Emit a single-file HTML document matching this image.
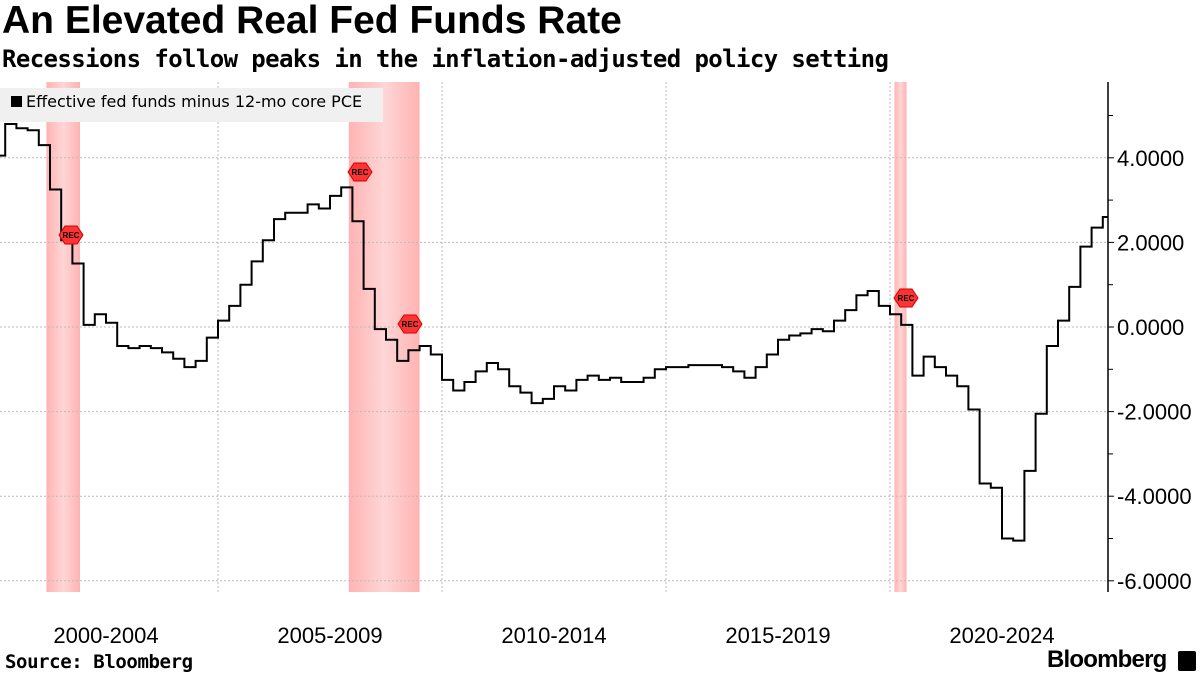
<!DOCTYPE html>
<html><head><meta charset="utf-8">
<style>
body{margin:0;background:#fff;font-family:"Liberation Sans",sans-serif;}
#wrap{position:relative;width:1200px;height:675px;overflow:hidden;}
.t{position:absolute;left:2px;color:#000;font-weight:bold;}
</style></head><body>
<div id="wrap">
<div class="t" style="top:-1px;font-size:39px;letter-spacing:0px">An Elevated Real Fed Funds Rate</div>
<div class="t" style="top:45px;font-size:24px;font-family:'DejaVu Sans Mono','Liberation Mono',monospace;letter-spacing:-0.6px">Recessions follow peaks in the inflation-adjusted policy setting</div>
<svg id="svg" width="1200" height="675" style="position:absolute;left:0;top:0"></svg>
<div style="position:absolute;left:5px;top:651px;font-size:19px;font-weight:bold;font-family:'DejaVu Sans Mono','Liberation Mono',monospace;letter-spacing:-0.4px">Source: Bloomberg</div>
<div style="position:absolute;left:1047px;top:646px;font-size:24px;font-weight:bold;letter-spacing:-0.8px">Bloomberg</div>
<div style="position:absolute;left:1178px;top:651px;width:18px;height:20px;background:#000;border-radius:2px"></div>
</div>
<script>
const startYear = 2000.0;
const step = 0.25;
const values = [4.05,4.8,4.7,4.65,4.3,3.25,2.05,1.5,0.05,0.3,0.1,-0.45,-0.5,-0.45,-0.5,-0.6,-0.75,-0.95,-0.8,-0.25,
0.15,0.5,1.0,1.55,2.05,2.55,2.7,2.7,2.9,2.8,3.1,3.3,2.5,0.9,-0.05,-0.3,-0.8,-0.55,-0.45,-0.65,
-1.25,-1.5,-1.3,-1.05,-0.85,-1.0,-1.4,-1.55,-1.8,-1.7,-1.4,-1.5,-1.25,-1.15,-1.25,-1.2,-1.3,-1.3,-1.2,-1.0,
-0.95,-0.95,-0.9,-0.9,-0.9,-0.95,-1.05,-1.2,-0.95,-0.65,-0.3,-0.2,-0.15,-0.05,-0.1,0.15,0.4,0.75,0.85,0.5,
0.3,0.05,-1.15,-0.7,-0.95,-1.15,-1.4,-1.95,-3.7,-3.8,-5.0,-5.05,-3.4,-2.05,-0.45,0.15,0.95,1.9,2.35,2.6];
const recessions = [[2001.17,2001.92],[2007.92,2009.5],[2020.1,2020.37]];
const yTicks = [4,2,0,-2,-4,-6];
const yTickLabels = ["4.0000","2.0000","0.0000","-2.0000","-4.0000","-6.0000"];
const xLabels = ["2000-2004","2005-2009","2010-2014","2015-2019","2020-2024"];
const xLabelStarts = [2000,2005,2010,2015,2020];

const svg=document.getElementById('svg');
const NS='http://www.w3.org/2000/svg';
const X=t=>-6+(t-2000)*44.8;
const Y=v=>327-v*42.3;
const TOP=82,BOT=592,AX=1108;
function mk(tag,attrs,parent){const e=document.createElementNS(NS,tag);for(const k in attrs)e.setAttribute(k,attrs[k]);(parent||svg).appendChild(e);return e;}

const defs=mk('defs',{});
const g=mk('linearGradient',{id:'recg',x1:0,x2:1,y1:0,y2:0},defs);
mk('stop',{offset:'0','stop-color':'#ffb3b3'},g);
mk('stop',{offset:'0.5','stop-color':'#ffd6d6'},g);
mk('stop',{offset:'1','stop-color':'#ffb3b3'},g);

recessions.forEach(r=>{
  const e=mk('rect',{x:X(r[0]),y:TOP,width:X(r[1])-X(r[0]),height:BOT-TOP,fill:'url(#recg)'});
  
  
});

yTicks.forEach((v,i)=>{
  const l=mk('line',{x1:0,x2:AX,y1:Y(v),y2:Y(v),stroke:'#bbb','stroke-dasharray':'2,2','stroke-width':1});
  
  
  mk('line',{x1:AX,x2:AX+6,y1:Y(v),y2:Y(v),stroke:'#000'});
  const t=mk('text',{x:AX+9,y:Y(v)+8,'font-size':22,'font-family':'Liberation Sans, sans-serif'});
  t.textContent=yTickLabels[i];
  
  
  if(i<yTicks.length-1){const m=Y(v-1);mk('line',{x1:AX,x2:AX+5,y1:m,y2:m,stroke:'#000'});}
});
{const m=Y(5);mk('line',{x1:AX,x2:AX+5,y1:m,y2:m,stroke:'#000'});}
const ax=mk('line',{x1:AX,x2:AX,y1:TOP,y2:BOT,stroke:'#000','stroke-width':1.5});



xLabelStarts.forEach((s,i)=>{
  if(i>0){const l=mk('line',{x1:X(s),x2:X(s),y1:TOP,y2:BOT,stroke:'#bbb','stroke-dasharray':'2,2'});
    
    }
  const t=mk('text',{x:X(s+2.5),y:643,'font-size':22,'text-anchor':'middle','font-family':'Liberation Sans, sans-serif'});
  t.textContent=xLabels[i];
  
  
});

let d='';
values.forEach((v,i)=>{
  const x=X(startYear+i*step),y=Y(v);
  if(i===0)d+=`M${x},${y}`;else d+=`H${x}V${y}`;
});
d+=`H${X(startYear+(values.length-1)*step)+5}`;
const line=mk('path',{d:d,fill:'none',stroke:'#000','stroke-width':2});



function rec(x,y){
  const gg=mk('g',{});
  
  
  mk('polygon',{points:`${x-12},${y} ${x-6},${y-9} ${x+6},${y-9} ${x+12},${y} ${x+6},${y+9} ${x-6},${y+9}`,fill:'#f33',stroke:'#c00'},gg);
  const t=mk('text',{x:x,y:y+3,'font-size':8,'font-weight':'bold','text-anchor':'middle','font-family':'Liberation Sans, sans-serif'},gg);
  t.textContent='REC';
}
rec(58,112);rec(360,172);rec(71,235);rec(410,324);rec(906,298);

const lg=mk('rect',{x:0,y:88,width:383,height:34,fill:'#f0f0f0'});


mk('rect',{x:11,y:96,width:11,height:11,fill:'#000'});
const lt=mk('text',{x:26,y:107,'font-size':16,'font-family':'DejaVu Sans, sans-serif'});
lt.textContent='Effective fed funds minus 12-mo core PCE';


</script>
</body></html>
